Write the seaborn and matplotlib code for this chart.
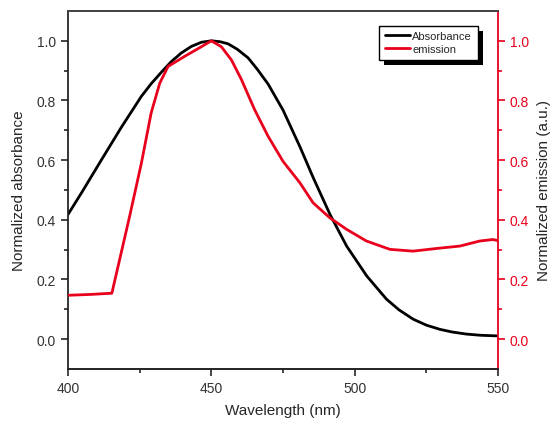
import numpy as np
import pandas as pd
import matplotlib
matplotlib.use("Agg")
import matplotlib.pyplot as plt
import matplotlib.patches as mpatches
import seaborn as sns

# absorbance spectrum
abs_wl = [400, 405, 411.6, 418.6, 425.6, 429, 432.6, 436, 439.5, 443, 446.5, 450, 453, 455.8,
          459, 462.8, 466, 469.8, 475, 480.9, 485.6, 491.4, 497.2, 504.2, 511.1, 515.5, 520.4,
          525, 529.7, 534, 539, 544, 549.5]
abs_val = [0.418, 0.495, 0.60, 0.71, 0.814, 0.856, 0.895, 0.93, 0.959, 0.981, 0.995, 1.0, 0.997, 0.99,
           0.972, 0.943, 0.905, 0.855, 0.768, 0.645, 0.54, 0.418, 0.312, 0.212, 0.134, 0.098, 0.067,
           0.047, 0.033, 0.024, 0.017, 0.013, 0.011]

# emission spectrum
em_wl = [400, 408, 415.3, 421.5, 425.6, 429, 432, 434.9, 440.7, 446.5, 450, 453.5, 457, 460.5,
         465.1, 469.8, 475, 480.9, 485.5, 491.3, 497.2, 504.1, 512.3, 520.4, 528.6, 536.7,
         543.7, 548.3, 550]
em_val = [0.147, 0.15, 0.154, 0.412, 0.59, 0.758, 0.858, 0.914, 0.948, 0.98, 1.0, 0.98, 0.936, 0.87,
          0.769, 0.68, 0.596, 0.524, 0.457, 0.407, 0.368, 0.329, 0.301, 0.295, 0.304, 0.312,
          0.329, 0.334, 0.33]

df_abs = pd.DataFrame({"wl": abs_wl, "val": abs_val})
df_em = pd.DataFrame({"wl": em_wl, "val": em_val})

sns.set_style("ticks")
plt.rcParams["font.family"] = ["Liberation Sans", "DejaVu Sans"]

fig = plt.figure(figsize=(5.53, 4.27), dpi=100)
ax = fig.add_axes([0.123, 0.1335, 0.7775, 0.8385])
ax2 = ax.twinx()

sns.lineplot(data=df_abs, x="wl", y="val", ax=ax, color="black", lw=2, label="Absorbance", legend=False)
sns.lineplot(data=df_em, x="wl", y="val", ax=ax2, color="#e8001c", lw=2, label="emission", legend=False)

for a in (ax, ax2):
    a.set_xlim(400, 550)
    a.set_ylim(-0.1, 1.1)
    a.set_yticks(np.arange(0, 1.01, 0.2))
    a.set_yticks(np.arange(0.1, 1.0, 0.2), minor=True)

ax.set_xticks([400, 450, 500, 550])
ax.set_xticks([425, 475, 525], minor=True)
ax.yaxis.set_major_formatter(matplotlib.ticker.FormatStrFormatter("%.1f"))
ax2.yaxis.set_major_formatter(matplotlib.ticker.FormatStrFormatter("%.1f"))

ax.tick_params(which="major", length=5, width=1.2, labelsize=10, labelcolor="#333333")
ax.tick_params(which="minor", length=3, width=1.2)
ax2.tick_params(which="major", length=5, width=1.2, labelsize=10, colors="#e8001c")
ax2.tick_params(which="minor", length=3, width=1.2, colors="#e8001c")

for s in ("left", "bottom", "top"):
    ax.spines[s].set_linewidth(1.3)
    ax2.spines[s].set_linewidth(1.3)
ax2.spines["right"].set_color("#e8001c")
ax2.spines["right"].set_linewidth(1.3)
ax.spines["right"].set_visible(False)
ax2.spines["left"].set_visible(False)
ax.spines["top"].set_color("#444444")
ax2.spines["top"].set_color("#444444")

ax.set_xlabel("Wavelength (nm)", fontsize=11, labelpad=6)
ax.set_ylabel("Normalized absorbance", fontsize=11, labelpad=8)
ax2.set_ylabel("Normalized emission (a.u.)", fontsize=11, labelpad=6)

h1, l1 = ax.get_legend_handles_labels()
h2, l2 = ax2.get_legend_handles_labels()
leg = ax2.legend(h1 + h2, l1 + l2, loc="upper right", bbox_to_anchor=(0.953, 0.959),
                 fontsize=8, frameon=True, fancybox=False, framealpha=1,
                 handlelength=2.3, handletextpad=0.2, borderpad=0.5, labelspacing=0.25,
                 borderaxespad=0)
leg.get_frame().set_edgecolor("black")
leg.get_frame().set_linewidth(1)
leg.set_zorder(10)

# drop shadow like the original (offset a few pixels right/down)
fig.canvas.draw()
bb = leg.get_frame().get_window_extent()
shadow = mpatches.Rectangle((bb.x0 + 5, bb.y0 - 5), bb.width, bb.height,
                            transform=None, facecolor="black", edgecolor="none", zorder=9)
ax2.add_artist(shadow)

fig.savefig("out.png", dpi=100)
